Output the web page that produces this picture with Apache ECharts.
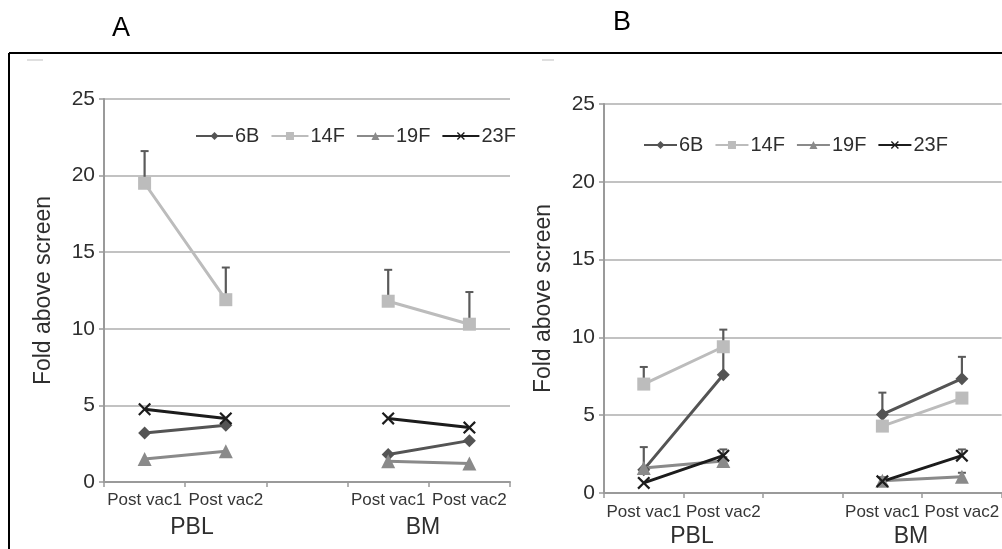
<!DOCTYPE html>
<html>
<head>
<meta charset="utf-8">
<script src="https://cdn.jsdelivr.net/npm/echarts@6/dist/echarts.min.js"></script>
<style>
html,body{margin:0;padding:0;background:#fff;}
#chart{width:1002px;height:549px;}
</style>
</head>
<body>
<div id="chart"></div>
<script>
// ---- data ----
var categories = ['Post vac1', 'Post vac2', '', 'Post vac1', 'Post vac2'];
var seriesNames = ['6B', '14F', '19F', '23F'];
var yTicks = [0, 5, 10, 15, 20, 25];

// Panel A values
var a6B  = [3.2, 3.7, null, 1.8, 2.7];
var a14F = [19.5, 11.9, null, 11.8, 10.3];
var a19F = [1.5, 2.0, null, 1.35, 1.2];
var a23F = [4.75, 4.15, null, 4.15, 3.55];
// Panel A upper error limits
var a14FUpper = [21.6, 14.0, null, 13.85, 12.4];

// Panel B values
var b6B  = [1.5, 7.6, null, 5.05, 7.35];
var b14F = [7.0, 9.4, null, 4.3, 6.1];
var b19F = [1.6, 2.05, null, 0.78, 1.05];
var b23F = [0.65, 2.4, null, 0.75, 2.4];
// Panel B upper error limits
var b6BUpper  = [2.95, 9.3, null, 6.45, 8.75];
var b14FUpper = [8.1, 10.5, null, null, null];
var b19FUpper = [null, 2.3, null, 1.0, 1.3];
var b23FUpper = [null, 2.8, null, 1.0, 2.8];

// ---- styles ----
var colors = {'6B': '#545454', '14F': '#bcbcbc', '19F': '#8a8a8a', '23F': '#1c1c1c'};
var xPath = 'path://M1.2,0 L5,3.8 L8.8,0 L10,1.2 L6.2,5 L10,8.8 L8.8,10 L5,6.2 L1.2,10 L0,8.8 L3.8,5 L0,1.2 Z';
var symbols = {'6B': 'diamond', '14F': 'rect', '19F': 'triangle', '23F': xPath};
var symSizes = {'6B': 13, '14F': 13, '19F': 14, '23F': 13};
var FONT = '"Liberation Sans", Arial, sans-serif';

function errData(values, uppers) {
  var out = [];
  for (var i = 0; i < values.length; i++) {
    if (values[i] != null && uppers[i] != null) out.push([i, values[i], uppers[i]]);
  }
  return out;
}

function errSeries(idx, data) {
  return {
    type: 'custom', name: 'err' + idx, xAxisIndex: idx, yAxisIndex: idx, z: 1,
    silent: true, data: data,
    encode: {x: 0, y: [1, 2]},
    renderItem: function (params, api) {
      var p0 = api.coord([api.value(0), api.value(1)]);
      var p1 = api.coord([api.value(0), api.value(2)]);
      var cw = 4;
      return {
        type: 'group',
        children: [
          {type: 'line', shape: {x1: p0[0], y1: p0[1], x2: p1[0], y2: p1[1]}, style: {stroke: '#5a5a5a', lineWidth: 2.2}},
          {type: 'line', shape: {x1: p1[0] - cw, y1: p1[1], x2: p1[0] + cw, y2: p1[1]}, style: {stroke: '#5a5a5a', lineWidth: 2}}
        ]
      };
    }
  };
}

function lineSeries(idx, name, data) {
  return {
    type: 'line', name: name, xAxisIndex: idx, yAxisIndex: idx, z: 3,
    data: data, connectNulls: false,
    symbol: symbols[name], symbolSize: symSizes[name],
    lineStyle: {color: colors[name], width: 3},
    itemStyle: {color: colors[name]},
    emphasis: {disabled: true}
  };
}

function xAxisCfg(idx, margin) {
  return {
    type: 'category', gridIndex: idx, data: categories, boundaryGap: true,
    axisLine: {lineStyle: {color: '#9a9a9a', width: 2}},
    axisTick: {show: true, length: 5, lineStyle: {color: '#9a9a9a', width: 1.5}},
    axisLabel: {color: '#363636', fontSize: 17, fontFamily: FONT, margin: margin, interval: 0},
    splitLine: {show: false}
  };
}

function yAxisCfg(idx) {
  return {
    type: 'value', gridIndex: idx, min: yTicks[0], max: yTicks[yTicks.length - 1], interval: 5,
    name: 'Fold above screen', nameLocation: 'middle', nameGap: 49,
    nameTextStyle: {color: '#2e2e2e', fontSize: 23, fontFamily: FONT},
    axisLine: {show: true, lineStyle: {color: '#9a9a9a', width: 2}},
    axisTick: {show: true, length: 5, lineStyle: {color: '#9a9a9a', width: 1.5}},
    axisLabel: {color: '#2e2e2e', fontSize: 21, fontFamily: FONT, margin: 9},
    splitLine: {show: true, lineStyle: {color: '#c2c2c2', width: 2}}
  };
}

function legendCfg(left, top, w) {
  return {
    data: seriesNames, left: left, top: top, orient: 'horizontal',
    itemWidth: w, itemHeight: 10, itemGap: 11,
    textStyle: {color: '#2e2e2e', fontSize: 20, fontFamily: FONT, padding: [0, 0, 0, -3]},
    selectedMode: false
  };
}

var option = {
  animation: false,
  backgroundColor: '#fff',
  grid: [
    {left: 104, top: 99, width: 406, height: 383},
    {left: 604, top: 104, width: 400, height: 389}
  ],
  xAxis: [xAxisCfg(0, 10), xAxisCfg(1, 11)],
  yAxis: [yAxisCfg(0), yAxisCfg(1)],
  legend: [legendCfg(190, 121, 37), legendCfg(638, 130, 33)],
  series: [
    errSeries(0, errData(a14F, a14FUpper)),
    lineSeries(0, '6B', a6B),
    lineSeries(0, '14F', a14F),
    lineSeries(0, '19F', a19F),
    lineSeries(0, '23F', a23F),
    errSeries(1, errData(b6B, b6BUpper).concat(errData(b14F, b14FUpper), errData(b19F, b19FUpper), errData(b23F, b23FUpper))),
    lineSeries(1, '6B', b6B),
    lineSeries(1, '14F', b14F),
    lineSeries(1, '19F', b19F),
    lineSeries(1, '23F', b23F)
  ],
  graphic: [
    {type: 'line', shape: {x1: 9, y1: 53, x2: 1002, y2: 53}, style: {stroke: '#000', lineWidth: 2}},
    {type: 'line', shape: {x1: 9, y1: 53, x2: 9, y2: 549}, style: {stroke: '#000', lineWidth: 2}},
    {type: 'line', shape: {x1: 27, y1: 60, x2: 43, y2: 60}, style: {stroke: '#d5d5d5', lineWidth: 1.5}},
    {type: 'line', shape: {x1: 542, y1: 60, x2: 554, y2: 60}, style: {stroke: '#d5d5d5', lineWidth: 1.5}},
    {type: 'text', x: 121, y: 29, style: {text: 'A', fontSize: 27, fontFamily: FONT, fill: '#000', align: 'center', verticalAlign: 'middle'}},
    {type: 'text', x: 622, y: 23, style: {text: 'B', fontSize: 27, fontFamily: FONT, fill: '#000', align: 'center', verticalAlign: 'middle'}},
    {type: 'text', x: 192, y: 528, style: {text: 'PBL', fontSize: 23, fontFamily: FONT, fill: '#2e2e2e', align: 'center', verticalAlign: 'middle'}},
    {type: 'text', x: 423, y: 528, style: {text: 'BM', fontSize: 23, fontFamily: FONT, fill: '#2e2e2e', align: 'center', verticalAlign: 'middle'}},
    {type: 'text', x: 692, y: 537, style: {text: 'PBL', fontSize: 23, fontFamily: FONT, fill: '#2e2e2e', align: 'center', verticalAlign: 'middle'}},
    {type: 'text', x: 911, y: 537, style: {text: 'BM', fontSize: 23, fontFamily: FONT, fill: '#2e2e2e', align: 'center', verticalAlign: 'middle'}}
  ]
};

var chart = echarts.init(document.getElementById('chart'), null, {renderer: 'canvas'});
chart.setOption(option);
</script>
</body>
</html>
